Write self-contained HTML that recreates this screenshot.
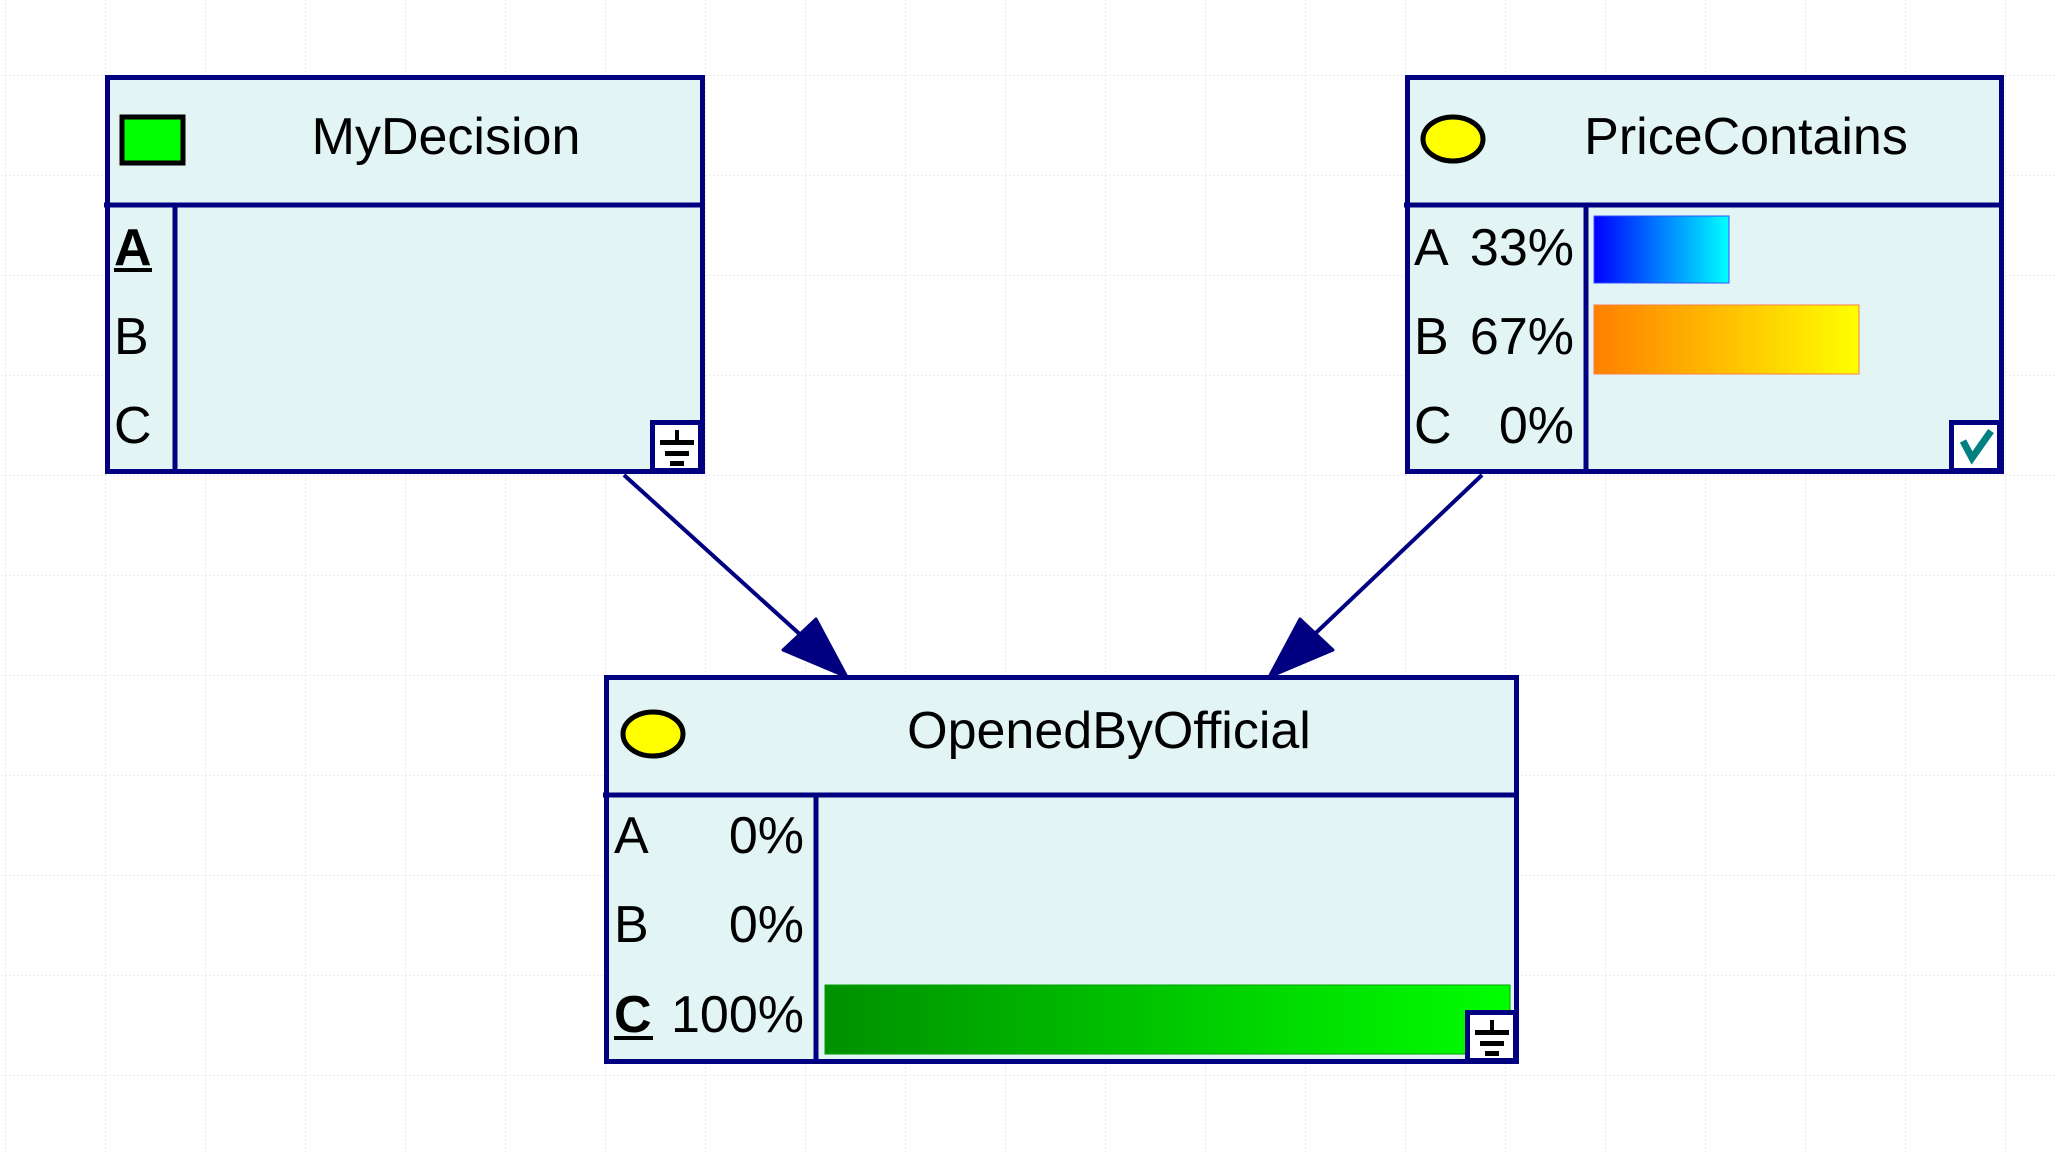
<!DOCTYPE html>
<html><head><meta charset="utf-8"><style>
html,body{margin:0;padding:0;background:#fff;}
svg{display:block;}
text{font-family:"Liberation Sans",Arial,sans-serif;fill:#000;}
</style></head><body>
<svg width="2056" height="1155" viewBox="0 0 2056 1155" xmlns="http://www.w3.org/2000/svg">
<defs>
<pattern id="g" x="5" y="75" width="100" height="100" patternUnits="userSpaceOnUse">
<path d="M0 0H100M0 0V100" stroke="#e4e4e4" stroke-width="1.5" fill="none" stroke-dasharray="2 2"/>
</pattern>
<linearGradient id="blue" x1="0" x2="1"><stop offset="0" stop-color="#0000ff"/><stop offset="1" stop-color="#00ffff"/></linearGradient>
<linearGradient id="orange" x1="0" x2="1"><stop offset="0" stop-color="#ff8000"/><stop offset="1" stop-color="#ffff00"/></linearGradient>
<linearGradient id="green" x1="0" x2="1"><stop offset="0" stop-color="#009000"/><stop offset="1" stop-color="#00ff00"/></linearGradient>
</defs>
<rect width="2056" height="1155" fill="url(#g)"/>

<!-- arrows -->
<line x1="624" y1="475" x2="815" y2="648" stroke="#000080" stroke-width="4"/>
<polygon points="847,677 783,650 816,619" fill="#000080" stroke="#000080" stroke-width="3" stroke-linejoin="round"/>
<line x1="1482" y1="475" x2="1300" y2="648" stroke="#000080" stroke-width="4"/>
<polygon points="1269,677 1333,650 1300,619" fill="#000080" stroke="#000080" stroke-width="3" stroke-linejoin="round"/>

<!-- MyDecision -->
<rect x="107.5" y="77.5" width="595" height="394" fill="#e2f4f4" stroke="#000080" stroke-width="5"/>
<line x1="104" y1="205" x2="703" y2="205" stroke="#000080" stroke-width="5"/>
<line x1="175" y1="205" x2="175" y2="472" stroke="#000080" stroke-width="5"/>
<rect x="122" y="117" width="61" height="46" fill="#00ff00" stroke="#000" stroke-width="5"/>
<text x="446" y="154" font-size="52" text-anchor="middle">MyDecision</text>
<text x="114" y="265" font-size="52" font-weight="bold">A</text>
<line x1="114" y1="270" x2="152" y2="270" stroke="#000" stroke-width="4"/>
<text x="114" y="354" font-size="52">B</text>
<text x="114" y="443" font-size="52">C</text>
<rect x="652.5" y="422.5" width="48" height="48" fill="#fff" stroke="#000080" stroke-width="5"/>
<rect x="675" y="430" width="4" height="14" fill="#000"/>
<rect x="660" y="440" width="34" height="5" fill="#000"/>
<rect x="665" y="451" width="24" height="5" fill="#000"/>
<rect x="670" y="461" width="14" height="5" fill="#000"/>

<!-- PriceContains -->
<rect x="1407.5" y="77.5" width="594" height="394" fill="#e2f4f4" stroke="#000080" stroke-width="5"/>
<line x1="1404" y1="205" x2="2002" y2="205" stroke="#000080" stroke-width="5"/>
<line x1="1586" y1="205" x2="1586" y2="472" stroke="#000080" stroke-width="5"/>
<ellipse cx="1453" cy="139" rx="30" ry="22" fill="#ffff00" stroke="#000" stroke-width="5"/>
<text x="1746" y="154" font-size="52" text-anchor="middle">PriceContains</text>
<text x="1414" y="265" font-size="52">A</text><text x="1574" y="265" font-size="52" text-anchor="end">33%</text>
<text x="1414" y="354" font-size="52">B</text><text x="1574" y="354" font-size="52" text-anchor="end">67%</text>
<text x="1414" y="443" font-size="52">C</text><text x="1574" y="443" font-size="52" text-anchor="end">0%</text>
<rect x="1594" y="216" width="135" height="67" fill="url(#blue)" stroke="#3050ff" stroke-width="1"/>
<rect x="1594" y="305" width="265" height="69" fill="url(#orange)" stroke="#ff8040" stroke-width="1"/>
<rect x="1951.5" y="422.5" width="48" height="48" fill="#fff" stroke="#000080" stroke-width="5"/>
<polyline points="1963,441 1972,458 1991,431" fill="none" stroke="#008080" stroke-width="7"/>

<!-- OpenedByOfficial -->
<rect x="606.5" y="677.5" width="910" height="384" fill="#e2f4f4" stroke="#000080" stroke-width="5"/>
<line x1="603" y1="795" x2="1517" y2="795" stroke="#000080" stroke-width="5"/>
<line x1="816" y1="795" x2="816" y2="1062" stroke="#000080" stroke-width="5"/>
<ellipse cx="653" cy="734" rx="30" ry="22" fill="#ffff00" stroke="#000" stroke-width="5"/>
<text x="1109" y="748" font-size="52" text-anchor="middle">OpenedByOfficial</text>
<text x="614" y="853" font-size="52">A</text><text x="804" y="853" font-size="52" text-anchor="end">0%</text>
<text x="614" y="942" font-size="52">B</text><text x="804" y="942" font-size="52" text-anchor="end">0%</text>
<text x="614" y="1032" font-size="52" font-weight="bold">C</text><text x="804" y="1032" font-size="52" text-anchor="end">100%</text>
<line x1="614" y1="1038" x2="653" y2="1038" stroke="#000" stroke-width="4"/>
<rect x="825" y="985" width="685" height="69" fill="url(#green)" stroke="#00a000" stroke-width="1"/>
<rect x="1467.5" y="1012.5" width="48" height="48" fill="#fff" stroke="#000080" stroke-width="5"/>
<rect x="1490" y="1020" width="4" height="14" fill="#000"/>
<rect x="1475" y="1030" width="34" height="5" fill="#000"/>
<rect x="1480" y="1041" width="24" height="5" fill="#000"/>
<rect x="1485" y="1051" width="14" height="5" fill="#000"/>
</svg>
</body></html>
